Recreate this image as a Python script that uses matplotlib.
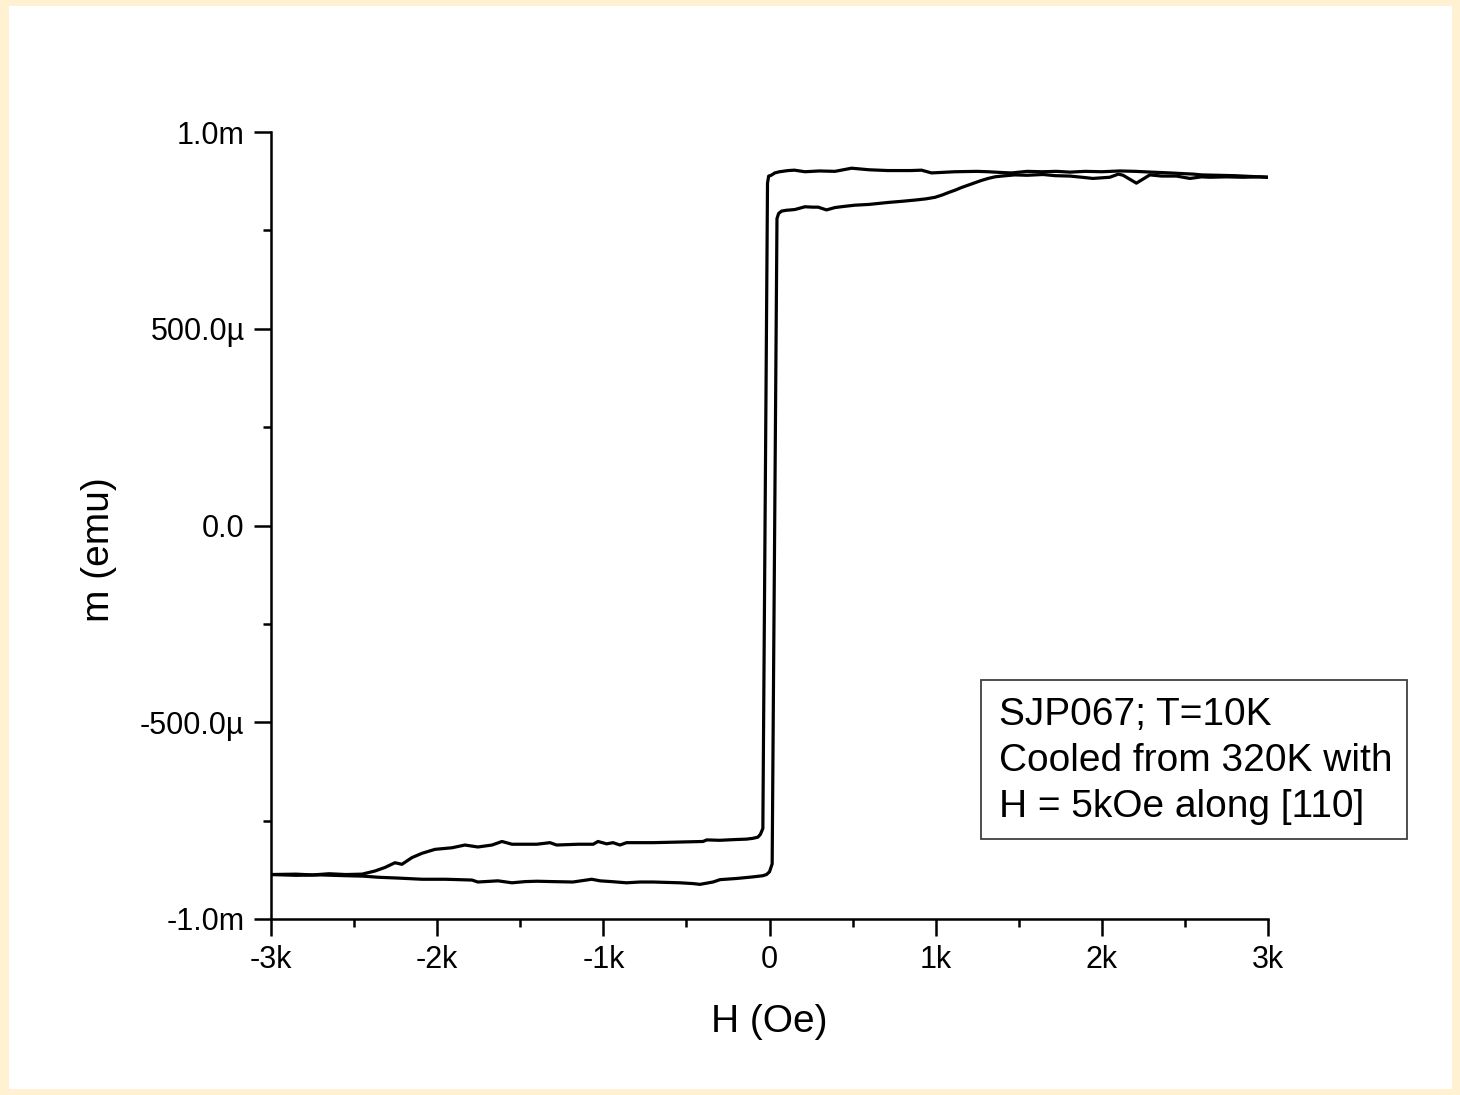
import matplotlib
matplotlib.use("Agg")
import matplotlib.pyplot as plt
from matplotlib.patches import Rectangle
import numpy as np

plt.rcParams['font.family'] = ['Liberation Sans', 'DejaVu Sans']

# ---- data (H in Oe, m in milli-emu) ----
H_down = [3000, 2900, 2800, 2700, 2600, 2550, 2500, 2410, 2300, 2200, 2109, 2000,
          1900, 1808, 1727, 1640, 1550, 1457, 1400, 1316, 1250, 1115, 975, 915,
          850, 713, 600, 494, 394, 300, 213, 150, 112, 60, 32, 10, -5, -12, -40,
          -55, -70, -100, -138, -200, -300, -378, -400, -500, -600, -700, -800,
          -860, -900, -942, -980, -1032, -1061, -1150, -1281, -1321, -1400, -1472,
          -1550, -1610, -1670, -1755, -1833, -1911, -2013, -2091, -2152, -2212,
          -2254, -2314, -2374, -2452, -2550, -2650, -2750, -2850, -3000]
m_down = [0.885, 0.887, 0.889, 0.890, 0.891, 0.893, 0.894, 0.896, 0.898, 0.900, 0.901, 0.899,
          0.900, 0.898, 0.900, 0.899, 0.900, 0.896, 0.897, 0.899, 0.900, 0.899, 0.896, 0.903,
          0.902, 0.902, 0.904, 0.908, 0.900, 0.901, 0.899, 0.903, 0.902, 0.899, 0.896, 0.890, 0.888, 0.870, -0.770,
          -0.785, -0.792, -0.795, -0.797, -0.798, -0.800, -0.799, -0.803, -0.804, -0.805, -0.806, -0.806,
          -0.806, -0.812, -0.806, -0.809, -0.803, -0.810, -0.810, -0.812, -0.806, -0.810, -0.810,
          -0.810, -0.803, -0.812, -0.817, -0.812, -0.819, -0.823, -0.833, -0.844, -0.861,
          -0.857, -0.869, -0.878, -0.886, -0.887, -0.885, -0.888, -0.886, -0.887]

H_up = [-3000, -2850, -2700, -2550, -2450, -2350, -2236, -2091, -1950, -1791, -1755, -1634,
        -1550, -1472, -1400, -1300, -1183, -1070, -1020, -950, -860, -780, -700, -620,
        -539, -460, -419, -340, -298, -198, -100, -40, -18, 0, 16, 45, 55, 73, 100,
        153, 213, 260, 293, 343, 394, 450, 514, 600, 715, 800, 875, 940, 996, 1040,
        1076, 1116, 1156, 1196, 1236, 1276, 1316, 1356, 1397, 1477, 1550, 1646, 1720,
        1808, 1880, 1946, 2048, 2100, 2128, 2208, 2289, 2360, 2449, 2530, 2600, 2650,
        2750, 2850, 2950, 3000]
m_up = [-0.887, -0.889, -0.888, -0.890, -0.891, -0.894, -0.896, -0.899, -0.899, -0.901, -0.906, -0.903,
        -0.908, -0.905, -0.904, -0.905, -0.906, -0.899, -0.903, -0.905, -0.908, -0.906, -0.906, -0.907,
        -0.908, -0.910, -0.912, -0.906, -0.900, -0.897, -0.893, -0.890, -0.887, -0.880, -0.860, 0.780, 0.793, 0.799, 0.801,
        0.803, 0.810, 0.809, 0.809, 0.802, 0.808, 0.811, 0.814, 0.816, 0.821, 0.824, 0.827, 0.830, 0.834, 0.840,
        0.846, 0.852, 0.859, 0.865, 0.871, 0.877, 0.882, 0.886, 0.888, 0.891, 0.890, 0.892, 0.889,
        0.888, 0.885, 0.882, 0.885, 0.893, 0.890, 0.870, 0.891, 0.888, 0.888, 0.882, 0.886, 0.885,
        0.886, 0.885, 0.886, 0.885]

x_ticks = [-3000, -2000, -1000, 0, 1000, 2000, 3000]
x_tick_labels = ['-3k', '-2k', '-1k', '0', '1k', '2k', '3k']
y_ticks = [-1e-3, -5e-4, 0.0, 5e-4, 1e-3]
y_tick_labels = ['-1.0m', '-500.0\u00b5', '0.0', '500.0\u00b5', '1.0m']

legend_text = "SJP067; T=10K\nCooled from 320K with\nH = 5kOe along [110]"

W, Hh = 1460, 1095
fig = plt.figure(figsize=(W / 100, Hh / 100), dpi=100)
fig.patch.set_facecolor('#fff1d2')
fig.patches.append(Rectangle((9 / W, 6 / Hh), (1452 - 9) / W, (1089 - 6) / Hh,
                             transform=fig.transFigure, facecolor='white',
                             edgecolor='none', zorder=-10))

ax = fig.add_axes([271 / W, (Hh - 919) / Hh, 997 / W, 787 / Hh])
ax.set_facecolor('none')
ax.set_zorder(1)

ax.plot(H_down, np.array(m_down) * 1e-3, color='black', lw=2.3)
ax.plot(H_up, np.array(m_up) * 1e-3, color='black', lw=2.3)

ax.set_xlim(-3000, 3000)
ax.set_ylim(-1e-3, 1e-3)

for s in ['top', 'right']:
    ax.spines[s].set_visible(False)
for s in ['left', 'bottom']:
    ax.spines[s].set_linewidth(1.8)

ax.set_xticks(x_ticks)
ax.set_xticklabels(x_tick_labels)
ax.set_yticks(y_ticks)
ax.set_yticklabels(y_tick_labels)
ax.set_xticks([-2500, -1500, -500, 500, 1500, 2500], minor=True)
ax.set_yticks([-7.5e-4, -2.5e-4, 2.5e-4, 7.5e-4], minor=True)

ax.tick_params(which='major', direction='out', length=12, width=1.8,
               labelsize=22, pad=7, colors='black')
ax.tick_params(which='minor', direction='out', length=6, width=1.8, colors='black')

ax.set_xlabel('H (Oe)', fontsize=28)
ax.set_ylabel('m (emu)', fontsize=28)
ax.xaxis.set_label_coords(0.5, (919 - 1004) / 787)
ax.yaxis.set_label_coords((117 - 271) / 997, (919 - 550) / 787)

# legend box
bx0, by0, bx1, by1 = 981, 680, 1407, 839
fig.patches.append(Rectangle((bx0 / W, (Hh - by1) / Hh), (bx1 - bx0) / W, (by1 - by0) / Hh,
                             transform=fig.transFigure, facecolor='white',
                             edgecolor='#404040', lw=1.3, zorder=3))
fig.text(999 / W, (Hh - 761) / Hh, legend_text, fontsize=28, va='center', ha='left',
         linespacing=1.36, zorder=4)

fig.savefig('out.png', dpi=100, facecolor=fig.get_facecolor())
